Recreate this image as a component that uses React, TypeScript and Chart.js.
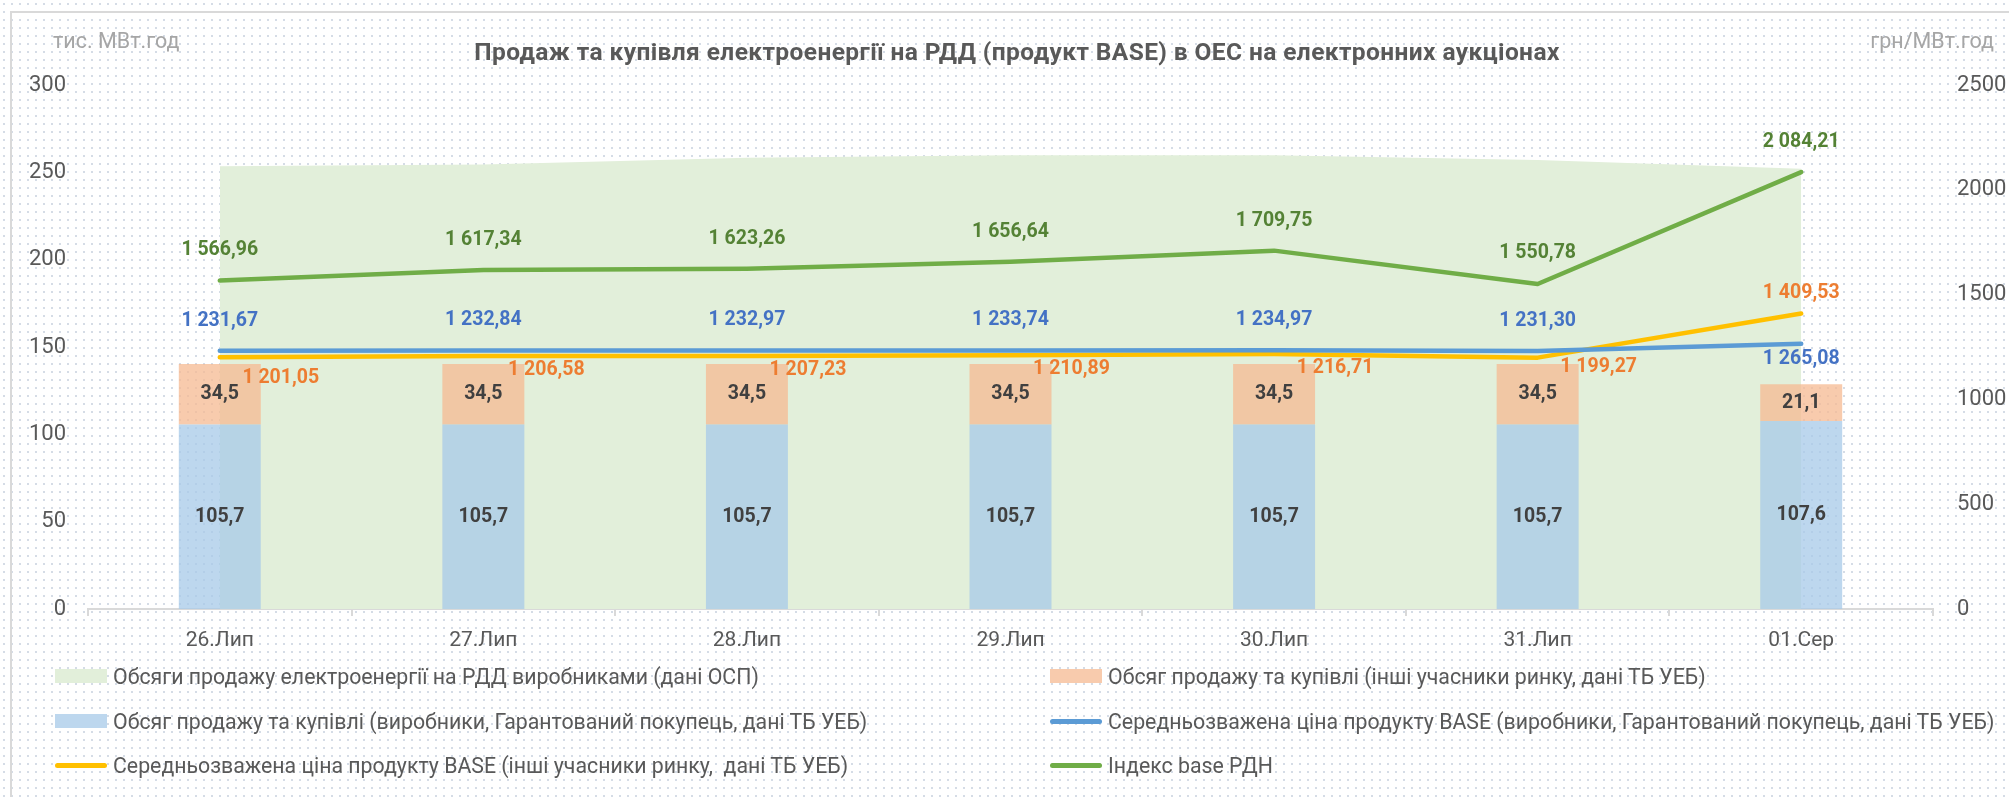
import React, { useEffect, useRef } from 'react';
import { Chart, registerables } from 'chart.js';

Chart.register(...registerables);

// ---------- data ----------
const categories = ['26.Лип', '27.Лип', '28.Лип', '29.Лип', '30.Лип', '31.Лип', '01.Сер'];

const seriesNames = [
  'Обсяги продажу електроенергії на РДД виробниками (дані ОСП)',
  'Обсяг продажу та купівлі (інші учасники ринку, дані ТБ УЕБ)',
  'Обсяг продажу та купівлі (виробники, Гарантований покупець, дані ТБ УЕБ)',
  'Середньозважена ціна продукту BASE (виробники, Гарантований покупець, дані ТБ УЕБ)',
  'Середньозважена ціна продукту BASE (інші учасники ринку,  дані ТБ УЕБ)',
  'Індекс base РДН',
];

const salesOSP = [253.5, 254.5, 258.3, 259.8, 259.8, 257.0, 252.0];
const volOthers = [34.5, 34.5, 34.5, 34.5, 34.5, 34.5, 21.1];
const volProducers = [105.7, 105.7, 105.7, 105.7, 105.7, 105.7, 107.6];
const priceProducers = [1231.67, 1232.84, 1232.97, 1233.74, 1234.97, 1231.3, 1265.08];
const priceOthers = [1201.05, 1206.58, 1207.23, 1210.89, 1216.71, 1199.27, 1409.53];
const indexBase = [1566.96, 1617.34, 1623.26, 1656.64, 1709.75, 1550.78, 2084.21];

const leftAxis = { min: 0, max: 300, step: 50 };
const rightAxis = { min: 0, max: 2500, step: 500 };

const titleText = 'Продаж та купівля електроенергії на РДД (продукт BASE) в ОЕС на електронних аукціонах';
const leftUnit = 'тис. МВт.год';
const rightUnit = 'грн/МВт.год';

// ---------- styles ----------
const FONT = 'Roboto';
const colors = {
  area: '#E2EFDA',
  barOthers: 'rgba(245,186,146,0.75)',
  barProducers: 'rgba(167,202,232,0.75)',
  legendOthers: '#F8CBAD',
  legendProducers: '#BDD7EE',
  lineProducers: '#5B9BD5',
  lineOthers: '#FFC000',
  lineIndex: '#70AD47',
  lblProducers: '#4472C4',
  lblOthers: '#ED7D31',
  lblIndex: '#548235',
  lblBar: '#404040',
  text: '#595959',
  unit: '#A6A6A6',
  axis: '#D9D9D9',
};

// label offsets (pixels) relative to the point, per dataset index
const labelStyles: Record<number, { color: string; decimals: number; inBar?: boolean; dx?: number[]; dy?: number[] }> = {
  1: { color: colors.lblBar, decimals: 1, inBar: true },
  2: { color: colors.lblBar, decimals: 1, inBar: true },
  3: { color: colors.lblProducers, decimals: 2, dy: [-30, -30, -30, -30, -30, -30, 15] },
  4: { color: colors.lblOthers, decimals: 2, dx: [61, 63, 61, 61, 61, 61, 0], dy: [21, 14, 14, 14, 14, 9, -20] },
  5: { color: colors.lblIndex, decimals: 2, dy: [-30, -30, -30, -30, -30, -31, -30] },
};

function fmt(v: number, d: number) {
  const s = v.toFixed(d);
  const [i, f] = s.split('.');
  const ii = i.replace(/\B(?=(\d{3})+(?!\d))/g, ' ');
  return f ? ii + ',' + f : ii;
}

const valueLabels = {
  id: 'valueLabels',
  afterDatasetsDraw(chart: any) {
    const ctx = chart.ctx;
    chart.data.datasets.forEach((ds: any, di: number) => {
      const cfg = labelStyles[di];
      if (!cfg) return;
      const meta = chart.getDatasetMeta(di);
      meta.data.forEach((el: any, i: number) => {
        let x: number;
        let y: number;
        if (cfg.inBar) {
          const p = el.getProps(['x', 'y', 'base'], true);
          x = p.x;
          y = (p.y + p.base) / 2;
        } else {
          x = el.x + (cfg.dx ? cfg.dx[i] : 0);
          y = el.y + (cfg.dy ? cfg.dy[i] : 0);
        }
        ctx.save();
        ctx.font = `bold 19.5px ${FONT}`;
        ctx.fillStyle = cfg.color;
        ctx.textAlign = 'center';
        ctx.textBaseline = 'middle';
        ctx.fillText(fmt(ds.data[i], cfg.decimals), x, y);
        ctx.restore();
      });
    });
  },
};

const W = 2009;
const H = 797;
const PLOT = { left: 88, right: 1933, top: 85, bottom: 609 };

export default function App() {
  const ref = useRef<HTMLCanvasElement>(null);

  useEffect(() => {
    document.body.style.margin = '0';
    const canvas = ref.current;
    if (!canvas) return;
    const chart = new Chart(canvas, {
      data: {
        labels: categories,
        datasets: [
          {
            type: 'line',
            label: seriesNames[0],
            data: salesOSP,
            yAxisID: 'y',
            stack: 'area',
            fill: 'origin',
            backgroundColor: colors.area,
            borderWidth: 0,
            pointRadius: 0,
            tension: 0,
            order: 10,
          },
          {
            type: 'bar',
            label: seriesNames[1],
            data: volOthers,
            yAxisID: 'y',
            stack: 'vol',
            backgroundColor: colors.barOthers,
            barPercentage: 1,
            categoryPercentage: 0.311,
            order: 6,
          },
          {
            type: 'bar',
            label: seriesNames[2],
            data: volProducers,
            yAxisID: 'y',
            stack: 'vol',
            backgroundColor: colors.barProducers,
            barPercentage: 1,
            categoryPercentage: 0.311,
            order: 5,
          },
          {
            type: 'line',
            label: seriesNames[3],
            data: priceProducers,
            yAxisID: 'y1',
            borderColor: colors.lineProducers,
            borderWidth: 4.5,
            pointRadius: 0,
            fill: false,
            borderCapStyle: 'round',
            borderJoinStyle: 'round',
            order: 2,
          },
          {
            type: 'line',
            label: seriesNames[4],
            data: priceOthers,
            yAxisID: 'y1',
            borderColor: colors.lineOthers,
            borderWidth: 4.5,
            pointRadius: 0,
            fill: false,
            borderCapStyle: 'round',
            borderJoinStyle: 'round',
            order: 3,
          },
          {
            type: 'line',
            label: seriesNames[5],
            data: indexBase,
            yAxisID: 'y1',
            borderColor: colors.lineIndex,
            borderWidth: 4.5,
            pointRadius: 0,
            fill: false,
            borderCapStyle: 'round',
            borderJoinStyle: 'round',
            order: 1,
          },
        ],
      } as any,
      options: {
        animation: false,
        responsive: true,
        maintainAspectRatio: false,
        layout: { padding: { top: PLOT.top, left: 0, right: 0, bottom: 0 } },
        plugins: {
          legend: { display: false },
          title: { display: false },
          tooltip: { enabled: false },
        },
        scales: {
          x: {
            type: 'category',
            offset: true,
            grid: {
              display: true,
              drawOnChartArea: false,
              drawTicks: true,
              tickLength: 7,
              color: colors.axis,
              lineWidth: 2,
              offset: true,
            },
            border: { display: true, color: colors.axis, width: 2 },
            ticks: {
              color: colors.text,
              font: { family: FONT, size: 21 },
              padding: 12,
              maxRotation: 0,
            },
            afterFit: (s: any) => {
              s.height = H - PLOT.bottom;
            },
          },
          y: {
            type: 'linear',
            position: 'left',
            stacked: true,
            min: leftAxis.min,
            max: leftAxis.max,
            grid: { display: false, drawTicks: false },
            border: { display: false },
            ticks: {
              stepSize: leftAxis.step,
              color: colors.text,
              font: { family: FONT, size: 22 },
              padding: 22,
              callback: (v: any) => String(v),
            },
            afterFit: (s: any) => {
              s.width = PLOT.left;
            },
          },
          y1: {
            type: 'linear',
            position: 'right',
            min: rightAxis.min,
            max: rightAxis.max,
            grid: { display: false, drawTicks: false },
            border: { display: false },
            ticks: {
              stepSize: rightAxis.step,
              color: colors.text,
              font: { family: FONT, size: 22 },
              padding: 24,
              callback: (v: any) => String(v),
            },
            afterFit: (s: any) => {
              s.width = W - PLOT.right;
            },
          },
        },
      } as any,
      plugins: [valueLabels],
    });
    return () => chart.destroy();
  }, []);

  const legendItems = [
    { name: seriesNames[0], kind: 'rect', color: colors.area, col: 0, row: 0 },
    { name: seriesNames[1], kind: 'rect', color: colors.legendOthers, col: 1, row: 0 },
    { name: seriesNames[2], kind: 'rect', color: colors.legendProducers, col: 0, row: 1 },
    { name: seriesNames[3], kind: 'line', color: colors.lineProducers, col: 1, row: 1 },
    { name: seriesNames[4], kind: 'line', color: colors.lineOthers, col: 0, row: 2 },
    { name: seriesNames[5], kind: 'line', color: colors.lineIndex, col: 1, row: 2 },
  ];
  const colX = [55, 1050];
  const rowY = [676, 721, 765];

  return (
    <div
      style={{
        position: 'absolute',
        left: 0,
        top: 0,
        width: W,
        height: H,
        overflow: 'hidden',
        backgroundColor: '#ffffff',
        backgroundImage: 'radial-gradient(circle, #d5dce6 0.9px, rgba(255,255,255,0) 1.3px)',
        backgroundSize: '8px 8px',
        fontFamily: FONT,
      }}
    >
      <div
        style={{
          position: 'absolute',
          left: 10,
          top: 11,
          width: W + 20,
          height: H + 20,
          borderLeft: `2px solid ${colors.axis}`,
          borderTop: `2px solid ${colors.axis}`,
        }}
      />
      <div style={{ position: 'absolute', left: 0, top: 0, width: W, height: H }}>
        <canvas ref={ref} />
      </div>
      <div
        style={{
          position: 'absolute',
          left: 1017,
          top: 52 - 16,
          transform: 'translateX(-50%)',
          whiteSpace: 'nowrap',
          fontWeight: 'bold',
          fontSize: 24.5,
          letterSpacing: 0.4,
          lineHeight: '32px',
          color: colors.text,
        }}
      >
        {titleText}
      </div>
      <div
        style={{
          position: 'absolute',
          left: 53,
          top: 41 - 14,
          whiteSpace: 'nowrap',
          fontSize: 21.5,
          lineHeight: '28px',
          color: colors.unit,
        }}
      >
        {leftUnit}
      </div>
      <div
        style={{
          position: 'absolute',
          right: W - 1994,
          top: 41 - 14,
          whiteSpace: 'nowrap',
          fontSize: 21.5,
          lineHeight: '28px',
          color: colors.unit,
        }}
      >
        {rightUnit}
      </div>
      {legendItems.map((it, k) => (
        <div
          key={k}
          style={{
            position: 'absolute',
            left: colX[it.col],
            top: rowY[it.row] - 14,
            height: 28,
            display: 'flex',
            alignItems: 'center',
            whiteSpace: 'pre',
            fontSize: 21.3,
            color: colors.text,
          }}
        >
          <span
            style={{
              display: 'inline-block',
              width: 52,
              height: it.kind === 'rect' ? 14 : 5,
              borderRadius: it.kind === 'rect' ? 0 : 2.5,
              backgroundColor: it.color,
              marginRight: 6,
              flex: 'none',
            }}
          />
          <span>{it.name}</span>
        </div>
      ))}
    </div>
  );
}
